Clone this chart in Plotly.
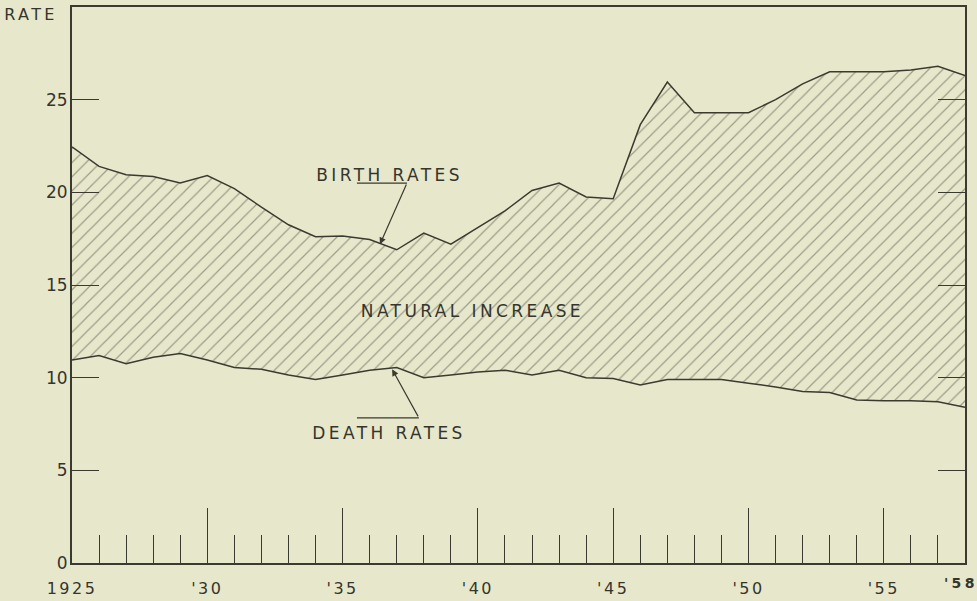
import plotly.graph_objects as go

years = list(range(1925, 1959))
birth_rates = [22.45, 21.4, 20.95, 20.85, 20.5, 20.9, 20.2, 19.2, 18.25, 17.6,
               17.65, 17.45, 16.9, 17.8, 17.2, 18.1, 19.0, 20.1, 20.5, 19.75,
               19.65, 23.65, 25.95, 24.3, 24.3, 24.3, 25.0, 25.85, 26.5, 26.5,
               26.5, 26.6, 26.8, 26.3]
death_rates = [10.95, 11.2, 10.75, 11.1, 11.3, 10.95, 10.55, 10.45, 10.15, 9.9,
               10.15, 10.4, 10.55, 10.0, 10.15, 10.3, 10.4, 10.15, 10.4, 10.0,
               9.95, 9.6, 9.9, 9.9, 9.9, 9.7, 9.5, 9.25, 9.2, 8.8,
               8.75, 8.75, 8.7, 8.4]
x_tickvals = [1925, 1930, 1935, 1940, 1945, 1950, 1955, 1958]
x_ticktext = ["1925", "'30", "'35", "'40", "'45", "'50", "'55", "'58"]
y_tickvals = [0, 5, 10, 15, 20, 25]

BG = "#e7e8cb"
INK = "#3a3a30"
TXT = "#35352e"
FONT = "DejaVu Sans"

fig = go.Figure()
fig.add_trace(go.Scatter(x=years, y=death_rates, mode="lines",
                         line=dict(color=INK, width=1.5), showlegend=False,
                         hoverinfo="skip"))
fig.add_trace(go.Scatter(x=years, y=birth_rates, mode="lines",
                         line=dict(color=INK, width=1.5), fill="tonexty",
                         fillcolor="rgba(0,0,0,0)",
                         fillpattern=dict(shape="/", size=10, solidity=0.12,
                                          fgcolor="#4f4f44", bgcolor=BG),
                         showlegend=False, hoverinfo="skip"))

tfont = dict(family=FONT, size=17, color=TXT)

# labels
fig.add_annotation(x=1936.75, y=20.95, text="BIRTH RATES", showarrow=False,
                   font=tfont, xref="x", yref="y")
fig.add_annotation(x=1939.8, y=13.6, text="NATURAL INCREASE", showarrow=False,
                   font=tfont, xref="x", yref="y")
fig.add_annotation(x=1936.7, y=7.0, text="DEATH RATES", showarrow=False,
                   font=tfont, xref="x", yref="y")

# leader lines
fig.add_shape(type="line", x0=1935.53, x1=1937.38, y0=20.5, y1=20.5,
              line=dict(color=INK, width=1.2))
fig.add_annotation(x=1936.38, y=17.2, ax=1937.38, ay=20.5, axref="x", ayref="y",
                   xref="x", yref="y", text="", showarrow=True, arrowhead=2,
                   arrowsize=1.1, arrowwidth=1.2, arrowcolor=INK)
fig.add_shape(type="line", x0=1935.53, x1=1937.82, y0=7.83, y1=7.83,
              line=dict(color=INK, width=1.2))
fig.add_annotation(x=1936.83, y=10.45, ax=1937.82, ay=7.83, axref="x", ayref="y",
                   xref="x", yref="y", text="", showarrow=True, arrowhead=2,
                   arrowsize=1.1, arrowwidth=1.2, arrowcolor=INK)

fig.add_annotation(x=-0.07, y=0.986, xref="paper", yref="paper", text="RATE",
                   showarrow=False, xanchor="left", yanchor="middle",
                   font=dict(family=FONT, size=16, color=TXT))

# last x label, slightly smaller and raised as in the original
fig.add_annotation(x=x_tickvals[-1], y=-0.036, xref="x", yref="paper",
                   text=x_ticktext[-1], showarrow=False, xanchor="center",
                   yanchor="middle", xshift=-4,
                   font=dict(family=FONT, size=14, color=TXT, weight="bold"))

fig.update_layout(
    width=977, height=601,
    margin=dict(l=72, r=12, t=7, b=38),
    paper_bgcolor=BG, plot_bgcolor=BG,
    font=dict(family=FONT, size=16, color=TXT),
    xaxis=dict(range=[1925, 1958], tickvals=x_tickvals,
               ticktext=x_ticktext[:-1] + [""], automargin=False,
               ticks="inside", ticklen=55, tickwidth=1.3, tickcolor=INK,
               showline=True, linecolor=INK, linewidth=2, mirror=True,
               showgrid=False, zeroline=False, ticklabelstandoff=10,
               minor=dict(tickvals=years, ticks="inside", ticklen=28,
                          tickwidth=1.3, tickcolor=INK, showgrid=False),
               tickfont=dict(family=FONT, size=16, color=TXT)),
    yaxis=dict(range=[0, 30], tickvals=y_tickvals, automargin=False,
               ticks="inside", ticklen=27, tickwidth=1.3, tickcolor=INK,
               showline=True, linecolor=INK, linewidth=2, mirror="ticks",
               showgrid=False, zeroline=False, ticklabelstandoff=-1,
               tickfont=dict(family=FONT, size=17, color=TXT)),
)

post = """
document.body.style.margin='0';
document.body.style.overflow='hidden';
document.querySelectorAll('.annotation-text').forEach(function(e){e.style.letterSpacing='3.4px';});
document.querySelectorAll('.xtick text').forEach(function(e){e.style.letterSpacing='2.5px';});
"""

fig.write_html("out.html", post_script=post, config={"displayModeBar": False})
